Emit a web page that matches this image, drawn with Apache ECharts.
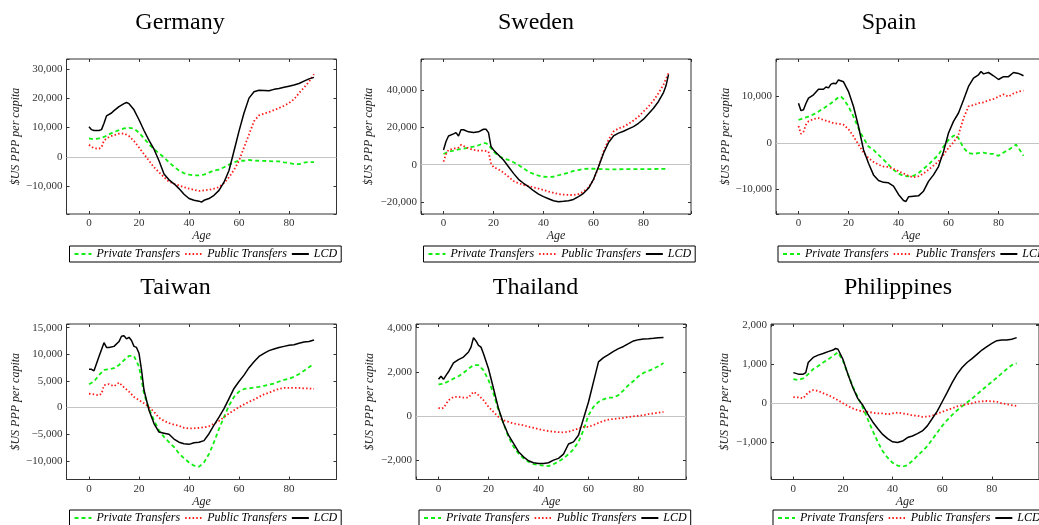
<!DOCTYPE html>
<html>
<head>
<meta charset="utf-8">
<script src="https://cdn.jsdelivr.net/npm/echarts@6.0.0/dist/echarts.min.js"></script>
<style>
html,body{margin:0;padding:0;background:#fff;}
#chart{width:1039px;height:525px;}
</style>
</head>
<body>
<div id="chart"></div>
<script>
// ---------------- DATA (age, $US PPP per capita) ----------------
const seriesNames = ['Private Transfers', 'Public Transfers', 'LCD'];
const countries = ['Germany', 'Sweden', 'Spain', 'Taiwan', 'Thailand', 'Philippines'];

const germanyPrivate = [[0,6300],[2,6000],[4,6300],[6,6800],[8,7700],[10,8500],[12,9100],[14,9700],[16,9900],[18,9700],[20,8200],[22,6300],[24,4300],[26,2600],[28,1200],[30,-200],[32,-1900],[34,-3400],[36,-4700],[38,-5600],[40,-6100],[42,-6400],[44,-6400],[46,-6100],[48,-5400],[50,-4700],[52,-4400],[54,-3600],[56,-2700],[58,-1900],[60,-1350],[62,-1350],[64,-1100],[66,-1300],[68,-1350],[70,-1400],[72,-1500],[74,-1600],[76,-1600],[78,-1900],[80,-2100],[82,-2500],[84,-2500],[86,-2000],[88,-1800],[90,-1800]];
const germanyPublic = [[0,4100],[2,2900],[4,2800],[5,3200],[6,5600],[8,6800],[10,7400],[12,7900],[14,8000],[16,7100],[18,5400],[20,3200],[22,900],[24,-1350],[26,-3600],[28,-5300],[30,-7000],[32,-8500],[34,-9250],[36,-9800],[38,-10400],[40,-10900],[42,-11300],[44,-11700],[46,-11500],[48,-11300],[50,-10900],[52,-10400],[54,-9000],[56,-7000],[58,-4500],[60,-1350],[62,3200],[64,7600],[66,12200],[68,14200],[70,14800],[72,15300],[74,16000],[76,16700],[78,17500],[80,18400],[82,19700],[84,21800],[86,23700],[88,25700],[90,28300]];
const germanyLCD = [[0,10300],[1,9300],[2,9000],[4,9000],[5,9300],[6,11500],[7,14000],[9,15000],[10,15800],[12,17200],[14,18200],[15,18600],[16,18200],[18,16100],[20,12700],[22,9000],[24,5600],[26,2600],[28,-1350],[30,-5900],[32,-7900],[34,-9250],[36,-10900],[38,-12850],[40,-14300],[42,-14900],[44,-15200],[45,-15550],[46,-14900],[48,-14300],[50,-13200],[52,-11500],[54,-8700],[56,-4700],[58,2000],[60,8800],[62,15000],[64,20100],[66,22300],[68,22800],[70,22700],[72,22600],[74,23100],[76,23400],[78,23800],[80,24200],[82,24600],[84,25100],[86,25900],[88,26700],[90,27200]];

const swedenPrivate = [[0,5700],[2,7000],[4,7500],[6,8200],[8,8600],[10,9100],[12,9700],[14,10400],[16,11500],[17,11500],[18,10600],[20,7000],[22,4700],[24,3400],[26,2500],[28,1300],[30,-200],[32,-2000],[34,-3800],[36,-5000],[38,-5900],[40,-6500],[42,-6600],[44,-6500],[46,-5700],[48,-5000],[50,-4300],[52,-3400],[54,-2900],[56,-2300],[58,-2200],[60,-2200],[62,-2300],[64,-2400],[66,-2500],[70,-2500],[74,-2400],[78,-2400],[82,-2400],[86,-2300],[90,-2300]];
const swedenPublic = [[0,1600],[1,5700],[2,7900],[4,8600],[6,9100],[7,10600],[8,10000],[10,8800],[12,7900],[14,7500],[16,7500],[18,7000],[19,700],[20,-1400],[22,-2500],[24,-4300],[26,-6500],[28,-8800],[30,-10000],[32,-10900],[34,-11500],[36,-12200],[38,-12900],[40,-13600],[42,-14500],[44,-15100],[46,-15800],[48,-16100],[50,-16300],[52,-16300],[54,-15800],[56,-14500],[58,-12200],[60,-8300],[62,-1400],[64,7000],[66,13300],[68,17800],[70,19400],[72,20400],[74,21900],[76,23700],[78,25800],[80,28500],[82,31200],[84,34400],[86,38400],[88,42900],[90,49100]];
const swedenLCD = [[0,7900],[1,12400],[2,15400],[4,16500],[5,17200],[6,15400],[7,18700],[8,18700],[10,17600],[12,17200],[14,17600],[16,19000],[17,19000],[18,17200],[19,9700],[20,7900],[22,5200],[24,2500],[26,-1100],[28,-4700],[30,-7900],[32,-10000],[34,-11800],[36,-14000],[38,-15800],[40,-17200],[42,-18300],[44,-19400],[46,-19900],[48,-19700],[50,-19400],[52,-18700],[54,-17200],[56,-15400],[58,-12700],[60,-7900],[62,-1100],[64,6100],[66,11800],[68,15400],[70,16900],[72,17900],[74,19200],[76,20400],[78,22200],[80,24400],[82,27300],[84,30300],[86,33900],[88,38700],[89,42300],[90,48300]];

const spainPrivate = [[0,4900],[2,5300],[4,5600],[6,6100],[8,6700],[10,7400],[12,8100],[14,8900],[16,9800],[17,9900],[18,9400],[20,7800],[22,5600],[24,3100],[26,1000],[28,-800],[30,-1500],[32,-2600],[34,-3600],[36,-4700],[38,-5800],[40,-6600],[42,-7100],[44,-7200],[46,-7100],[48,-6500],[50,-5600],[52,-4700],[54,-3600],[56,-2600],[58,-800],[60,600],[62,1500],[63,1700],[64,1000],[66,-1100],[68,-2200],[70,-2400],[72,-2200],[74,-2100],[76,-2400],[78,-2400],[80,-2800],[82,-2100],[84,-1500],[86,-800],[87,-400],[88,-1100],[90,-2800]];
const spainPublic = [[0,3600],[1,1900],[2,2400],[3,3900],[4,4600],[6,5100],[8,5300],[10,4900],[12,4600],[14,4200],[16,4100],[18,3900],[20,2900],[22,1400],[24,-400],[26,-2100],[28,-3300],[30,-4100],[32,-4700],[34,-5100],[36,-5200],[38,-5600],[40,-6100],[42,-6600],[44,-7100],[46,-7400],[48,-7200],[50,-6600],[52,-5800],[54,-4900],[56,-4000],[58,-2600],[60,-1100],[62,100],[64,1700],[66,5300],[68,7800],[70,8100],[72,8500],[74,8700],[76,9100],[78,9400],[80,9900],[82,10400],[84,9900],[86,10600],[88,11000],[90,11200]];
const spainLCD = [[0,8500],[1,6900],[2,7100],[3,8500],[4,9600],[6,10300],[8,11500],[10,11500],[11,12000],[12,11800],[13,12600],[14,12800],[15,12700],[16,13500],[18,13100],[20,11000],[22,7800],[24,3500],[26,-1500],[28,-4400],[30,-6900],[32,-8100],[34,-8500],[36,-8600],[38,-9300],[40,-11100],[42,-12400],[43,-12600],[44,-11600],[46,-11500],[48,-11400],[50,-10400],[52,-8300],[54,-6900],[56,-5100],[58,-1900],[60,2100],[62,4600],[64,6400],[66,9200],[68,12100],[70,13900],[72,14600],[73,15300],[74,14800],[76,15100],[78,14400],[80,13600],[82,14200],[84,14200],[86,15100],[88,14900],[90,14400]];

const taiwanPrivate = [[0,4400],[2,4900],[4,6100],[6,7100],[8,7200],[10,7400],[12,8000],[14,8900],[16,9700],[18,9700],[20,7700],[21,5200],[22,2600],[24,-200],[26,-2400],[28,-4300],[30,-5500],[32,-6500],[34,-7400],[36,-8600],[38,-9500],[40,-10300],[42,-10900],[44,-11100],[46,-10300],[48,-8700],[50,-6500],[52,-4000],[54,-1800],[56,400],[58,2000],[60,3000],[62,3500],[64,3600],[66,3800],[68,3900],[70,4100],[72,4300],[74,4500],[76,4900],[78,5200],[80,5400],[82,5800],[84,6300],[86,6900],[88,7600],[90,8200]];
const taiwanPublic = [[0,2600],[2,2500],[4,2300],[5,2600],[6,4200],[8,4400],[10,4000],[12,4700],[14,3800],[16,3000],[18,2000],[20,1400],[22,800],[24,100],[26,-800],[28,-1900],[30,-2500],[32,-2900],[34,-3200],[36,-3400],[38,-3800],[40,-3900],[42,-3900],[44,-3800],[46,-3700],[48,-3500],[50,-3000],[52,-2500],[54,-1800],[56,-1100],[58,-500],[60,100],[62,600],[64,1100],[66,1500],[68,2000],[70,2500],[72,2800],[74,3200],[76,3500],[78,3700],[80,3700],[82,3700],[84,3700],[86,3600],[88,3600],[90,3500]];
const taiwanLCD = [[0,7200],[1,7200],[2,6900],[4,9600],[6,12200],[7,11300],[8,11300],[10,11500],[12,12400],[13,13400],[14,13500],[15,12900],[16,13200],[17,12600],[18,11500],[19,11300],[20,10200],[21,7100],[22,3300],[24,-500],[26,-3000],[28,-4600],[30,-4800],[32,-5000],[34,-5900],[36,-6500],[38,-6800],[40,-6900],[42,-6600],[44,-6500],[46,-6200],[48,-4900],[50,-3300],[52,-1800],[54,-200],[56,1700],[58,3600],[60,4900],[62,6100],[64,7500],[66,8600],[68,9600],[70,10200],[72,10700],[74,11000],[76,11300],[78,11500],[80,11700],[82,11800],[84,12100],[86,12300],[88,12400],[90,12700]];

const thailandPrivate = [[0,1430],[2,1460],[4,1570],[6,1690],[8,1800],[10,1950],[12,2140],[14,2300],[16,2300],[18,2070],[20,1620],[22,1010],[24,260],[26,-350],[28,-950],[30,-1400],[32,-1710],[34,-1930],[36,-2080],[38,-2190],[40,-2230],[42,-2260],[44,-2280],[46,-2190],[48,-2080],[50,-1930],[52,-1740],[54,-1520],[56,-1180],[58,-650],[60,30],[62,410],[64,630],[66,750],[68,830],[70,830],[72,940],[74,1160],[76,1390],[78,1580],[80,1800],[82,1950],[84,2040],[86,2140],[88,2250],[90,2400]];
const thailandPublic = [[0,360],[1,320],[2,360],[4,710],[6,860],[8,860],[10,830],[12,830],[14,1090],[16,940],[18,710],[20,410],[22,180],[24,-50],[26,-200],[28,-270],[30,-350],[32,-390],[34,-420],[36,-500],[38,-540],[40,-600],[42,-650],[44,-690],[46,-720],[48,-740],[50,-750],[52,-720],[54,-650],[56,-570],[58,-500],[60,-500],[62,-420],[64,-320],[66,-230],[68,-170],[70,-140],[72,-120],[74,-90],[76,-50],[78,-20],[80,0],[82,30],[84,80],[86,110],[88,140],[90,180]];
const thailandLCD = [[0,1660],[1,1800],[2,1660],[3,1840],[4,2000],[6,2400],[8,2550],[10,2670],[12,2900],[13,3120],[14,3550],[15,3400],[16,3200],[17,3120],[18,2820],[20,2140],[22,1240],[24,330],[26,-350],[28,-880],[30,-1250],[32,-1630],[34,-1860],[36,-2040],[38,-2130],[40,-2160],[42,-2160],[44,-2130],[46,-2010],[48,-1930],[50,-1740],[52,-1280],[54,-1180],[56,-880],[58,-120],[60,630],[62,1540],[64,2450],[66,2640],[68,2780],[70,2930],[72,3050],[74,3150],[76,3280],[78,3400],[80,3460],[82,3490],[84,3500],[86,3520],[88,3550],[90,3560]];

const philippinesPrivate = [[0,610],[2,590],[4,630],[6,740],[8,870],[10,950],[12,1040],[14,1120],[16,1210],[18,1300],[20,1080],[22,740],[24,420],[26,140],[28,-120],[30,-420],[32,-720],[34,-1000],[36,-1240],[38,-1410],[40,-1540],[42,-1610],[44,-1640],[46,-1600],[48,-1490],[50,-1360],[52,-1240],[54,-1110],[56,-940],[58,-760],[60,-590],[62,-440],[64,-310],[66,-190],[68,-90],[70,10],[72,110],[74,220],[76,330],[78,440],[80,540],[82,650],[84,760],[86,870],[88,970],[90,1020]];
const philippinesPublic = [[0,150],[2,140],[4,120],[6,270],[8,330],[10,310],[12,250],[14,200],[16,140],[18,70],[20,-10],[22,-80],[24,-140],[26,-190],[28,-220],[30,-230],[32,-250],[34,-270],[36,-270],[38,-290],[40,-270],[42,-250],[44,-270],[46,-290],[48,-320],[50,-330],[52,-360],[54,-350],[56,-330],[58,-270],[60,-230],[62,-180],[64,-140],[66,-90],[68,-60],[70,-30],[72,-10],[74,30],[76,40],[78,50],[80,40],[82,30],[84,-10],[86,-30],[88,-60],[90,-80]];
const philippinesLCD = [[0,780],[2,740],[4,740],[5,780],[6,1040],[8,1170],[10,1230],[12,1270],[14,1320],[16,1360],[17,1400],[18,1380],[20,1120],[22,740],[24,390],[26,110],[28,-60],[30,-290],[32,-490],[34,-660],[36,-810],[38,-920],[40,-1000],[42,-1020],[44,-980],[46,-890],[48,-850],[50,-790],[52,-720],[54,-590],[56,-400],[58,-210],[60,30],[62,270],[64,520],[66,740],[68,910],[70,1040],[72,1140],[74,1250],[76,1360],[78,1450],[80,1530],[82,1600],[84,1620],[86,1620],[88,1640],[90,1680]];

const countryData = [
  [germanyPrivate, germanyPublic, germanyLCD],
  [swedenPrivate, swedenPublic, swedenLCD],
  [spainPrivate, spainPublic, spainLCD],
  [taiwanPrivate, taiwanPublic, taiwanLCD],
  [thailandPrivate, thailandPublic, thailandLCD],
  [philippinesPrivate, philippinesPublic, philippinesLCD]
];

// axis ranges and tick steps
const xRange = [-9, 99];
const xStep = 20;
const yRanges = [[-19600, 33500], [-26500, 56700], [-15300, 18000], [-13500, 15700], [-2890, 4170], [-1970, 2030]];
const ySteps = [10000, 20000, 10000, 5000, 2000, 1000];

// ---------------- LAYOUT ----------------
const layout = [
  {left: 66.5, top: 59,  w: 270, h: 155,   titleX: 180, titleTop: 11,  nameGap: 44, legL: 69.5,  legT: 246},
  {left: 421,  top: 59,  w: 270, h: 155,   titleX: 536, titleTop: 11,  nameGap: 46, legL: 423.5, legT: 246},
  {left: 776,  top: 59,  w: 270, h: 155,   titleX: 889, titleTop: 11,  nameGap: 44, legL: 778,   legT: 246},
  {left: 66.5, top: 324, w: 270, h: 155.5, titleX: 175.5, titleTop: 276, nameGap: 44, legL: 69.5, legT: 510},
  {left: 416,  top: 324, w: 270, h: 155.5, titleX: 535.5, titleTop: 276, nameGap: 40, legL: 419,  legT: 510},
  {left: 771,  top: 324, w: 268, h: 155.5, titleX: 898, titleTop: 276, nameGap: 40, legL: 773,   legT: 510}
];

const SERIF = "'Liberation Serif', 'DejaVu Serif', serif";
const styles = [
  {color: '#11ee11', width: 1.8, type: [4, 3]},
  {color: '#ff1a1a', width: 1.8, type: [1.5, 2.2]},
  {color: '#000000', width: 1.5, type: 'solid'}
];

function fmtNum(v) {
  const a = Math.abs(Math.round(v)).toString().replace(/\B(?=(\d{3})+(?!\d))/g, ',');
  return (v < 0 ? '\u2212' : '') + a;
}

const option = {
  animation: false,
  backgroundColor: '#ffffff',
  title: [], grid: [], xAxis: [], yAxis: [], legend: [], series: []
};

const tickStyle = {inside: true, length: 3, lineStyle: {color: '#333', width: 1}};
const noLine = {show: false, onZero: false};

countries.forEach((name, i) => {
  const L = layout[i];
  const step = ySteps[i];
  option.title.push({
    text: name, left: L.titleX, top: L.titleTop, textAlign: 'center', padding: 0,
    textStyle: {fontFamily: SERIF, fontSize: 24, fontWeight: 'normal', color: '#000'}
  });
  option.grid.push({
    left: L.left, top: L.top, width: L.w, height: L.h, show: true,
    borderColor: '#333', borderWidth: 1, backgroundColor: 'transparent',
    containLabel: false, outerBoundsMode: 'none'
  });
  // bottom x axis
  option.xAxis.push({
    type: 'value', gridIndex: i, position: 'bottom', min: xRange[0], max: xRange[1],
    minInterval: xStep, maxInterval: xStep,
    name: 'Age', nameLocation: 'middle', nameGap: 16,
    nameTextStyle: {fontFamily: SERIF, fontStyle: 'italic', fontSize: 12, color: '#222'},
    axisLine: noLine, axisTick: tickStyle, splitLine: {show: false},
    axisLabel: {fontFamily: SERIF, fontSize: 11, color: '#333', margin: 4,
      formatter: v => (Math.abs(v % xStep) < 1e-9 ? String(v) : '')}
  });
  // top x axis (ticks only)
  option.xAxis.push({
    type: 'value', gridIndex: i, position: 'top', min: xRange[0], max: xRange[1],
    minInterval: xStep, maxInterval: xStep,
    axisLine: noLine, axisTick: tickStyle, splitLine: {show: false},
    axisLabel: {show: false}
  });
  // left y axis
  option.yAxis.push({
    type: 'value', gridIndex: i, position: 'left', min: yRanges[i][0], max: yRanges[i][1],
    minInterval: step, maxInterval: step,
    name: '$US PPP per capita', nameLocation: 'middle', nameGap: L.nameGap, nameRotate: 90,
    nameTextStyle: {fontFamily: SERIF, fontStyle: 'italic', fontSize: 12, color: '#222'},
    axisLine: noLine, axisTick: tickStyle, splitLine: {show: false},
    axisLabel: {fontFamily: SERIF, fontSize: 11, color: '#333', margin: 4,
      formatter: v => (Math.abs(v % step) < 1e-6 ? fmtNum(v) : '')}
  });
  // right y axis (ticks only)
  option.yAxis.push({
    type: 'value', gridIndex: i, position: 'right', min: yRanges[i][0], max: yRanges[i][1],
    minInterval: step, maxInterval: step,
    axisLine: noLine, axisTick: tickStyle, splitLine: {show: false},
    axisLabel: {show: false}
  });
  option.legend.push({
    left: L.legL, top: L.legT, width: 400, orient: 'horizontal',
    data: seriesNames, selectedMode: false,
    borderColor: '#000', borderWidth: 1, borderRadius: 0, padding: [2, 4, 2, 4],
    itemGap: 4, itemWidth: 17, itemHeight: 10,
    itemStyle: {opacity: 0, borderWidth: 0},
    textStyle: {fontFamily: SERIF, fontStyle: 'italic', fontSize: 12, color: '#000'}
  });
  countryData[i].forEach((d, k) => {
    const s = {
      name: seriesNames[k], type: 'line', data: d,
      xAxisIndex: 2 * i, yAxisIndex: 2 * i,
      symbol: 'none', showSymbol: false, smooth: false, z: 3,
      lineStyle: {color: styles[k].color, width: styles[k].width, type: styles[k].type},
      itemStyle: {color: styles[k].color},
      emphasis: {disabled: true}
    };
    if (k === 0) {
      s.markLine = {
        silent: true, symbol: 'none', z: 1, animation: false,
        label: {show: false},
        lineStyle: {color: '#c4c4c4', width: 1, type: 'solid'},
        emphasis: {disabled: true},
        data: [{yAxis: 0}]
      };
    }
    option.series.push(s);
  });
});

const chart = echarts.init(document.getElementById('chart'), null, {renderer: 'canvas'});
chart.setOption(option);
</script>
</body>
</html>
